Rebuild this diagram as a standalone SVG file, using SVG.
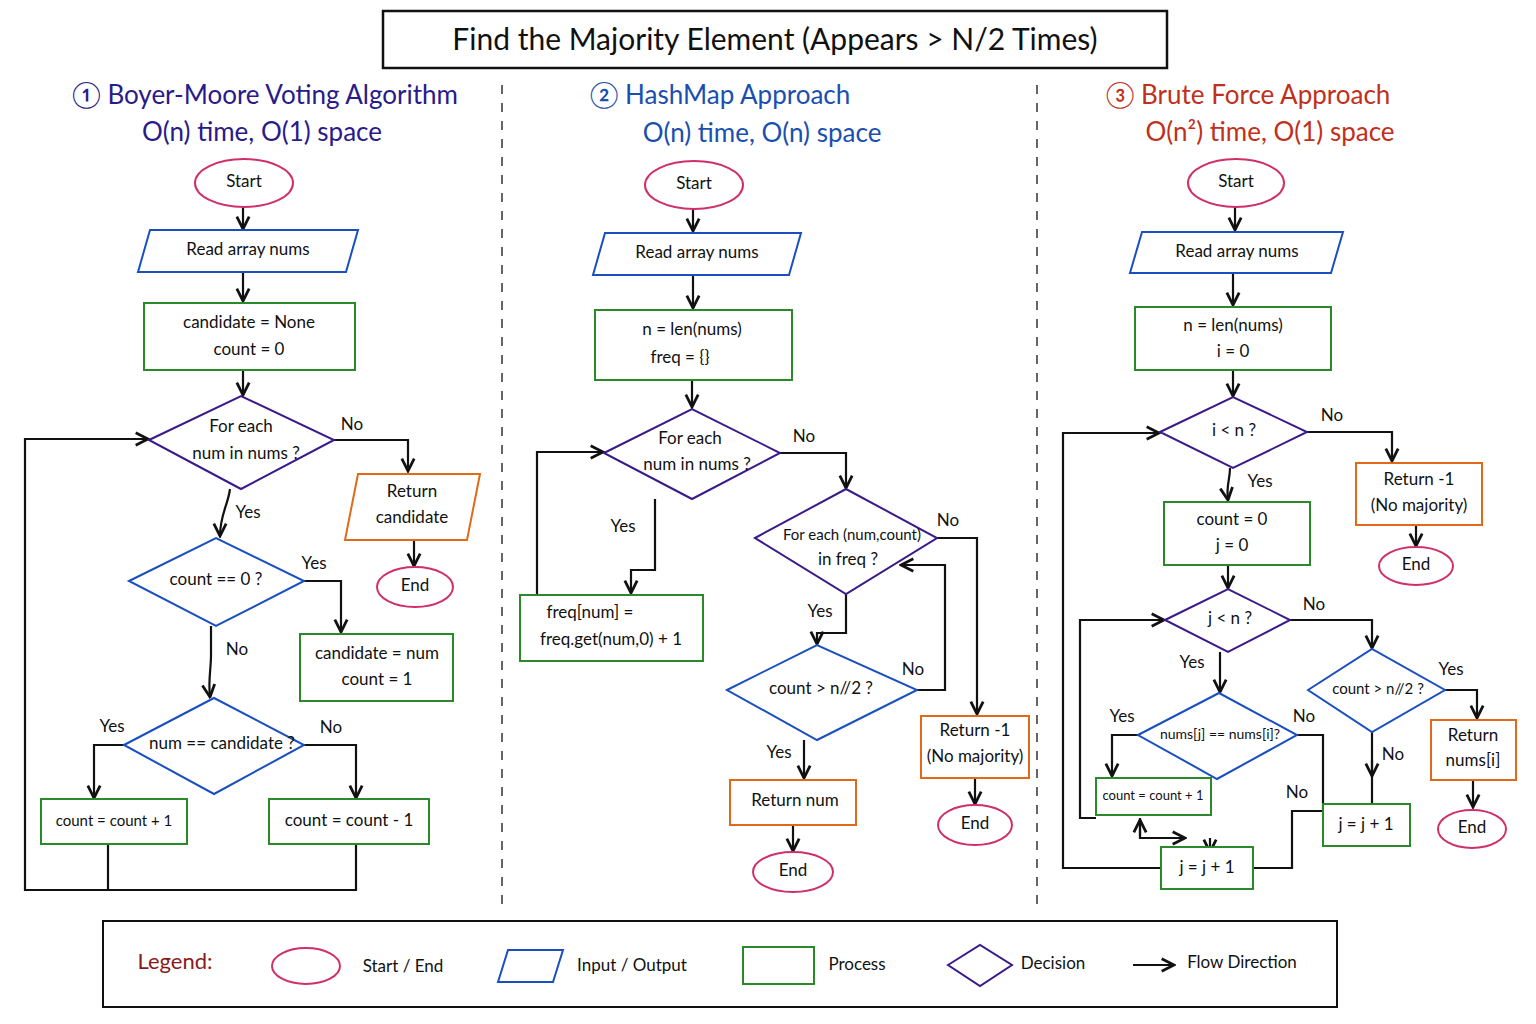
<svg xmlns="http://www.w3.org/2000/svg" width="1536" height="1024" viewBox="0 0 1536 1024">
<defs>
<marker id="ah" viewBox="0 0 10 10" refX="9" refY="5" markerWidth="7" markerHeight="7" orient="auto-start-reverse"><path d="M1,1 L9,5 L1,9" fill="none" stroke="#111" stroke-width="1.8"/></marker>
<style>
text{font-family:"Lato","Liberation Sans",sans-serif;fill:#111;text-anchor:middle;dominant-baseline:middle;font-size:17px}
.se{fill:#fff;stroke:#d0306a;stroke-width:2}
.io{fill:#fff;stroke:#1a4fc0;stroke-width:2}
.pr{fill:#fff;stroke:#2a8a2a;stroke-width:2}
.dp{fill:#fff;stroke:#3a1a8a;stroke-width:2}
.db{fill:#fff;stroke:#1a4fc0;stroke-width:2}
.or{fill:#fff;stroke:#e06a1a;stroke-width:2}
.c path{fill:none;stroke:#111;stroke-width:2.2;marker-end:url(#ah)}
.c path.n{marker-end:none}
.lb{font-size:18px}
.h{font-size:26px}
.div{stroke:#333;stroke-width:1.5;stroke-dasharray:9 9}
</style>
</defs>
<rect width="1536" height="1024" fill="#fff"/>
<g id="title"><rect x="383" y="11" width="784" height="57" fill="#fff" stroke="#111" stroke-width="2.5"/><text x="775" y="42" style="font-size:30px">Find the Majority Element (Appears &gt; N/2 Times)</text></g>
<line class="div" x1="502" y1="85" x2="502" y2="910"/>
<line class="div" x1="1037" y1="85" x2="1037" y2="910"/>
<g id="headers">
<text class="h" x="265" y="97" style="fill:#2a1a8a">① Boyer-Moore Voting Algorithm</text>
<text class="h" x="262" y="134" style="fill:#2a1a8a">O(n) time, O(1) space</text>
<text class="h" x="720" y="97" style="fill:#1a4fb0">② HashMap Approach</text>
<text class="h" x="762" y="135" style="fill:#1a4fb0">O(n) time, O(n) space</text>
<text class="h" x="1248" y="97" style="fill:#c0301a">③ Brute Force Approach</text>
<text class="h" x="1270" y="134" style="fill:#c0301a">O(n²) time, O(1) space</text>
</g>
<g class="c" id="connectors">
<path d="M243,207 V229"/><path d="M243,272 V301"/><path d="M243,370 V395"/>
<path d="M334,440 H408 V471"/><path d="M414,540 V566"/>
<path d="M230,489 C228,505 220,515 220,536"/>
<path d="M304,581 H341 V632"/>
<path d="M211,626 V655 C211,670 208,680 210,697"/>
<path d="M124,745 H94 V798"/><path d="M304,745 H356 V798"/>
<path class="n" d="M108,844 V890"/><path d="M356,844 V890 H25 V439 H148"/>
<path d="M693,209 V231"/><path d="M693,275 V308"/><path d="M692,380 V407"/>
<path d="M780,453 H846 V488"/>
<path d="M655,499 V570 H631 V593"/>
<path d="M537,595 V452 H603"/>
<path d="M937,538 H977 V714"/>
<path d="M846,594 V633 H817 V644"/>
<path d="M917,690 H945 V565 H901"/>
<path d="M804,740 V778"/>
<path d="M793,825 V851"/><path d="M975,778 V804"/>
<path d="M1235,207 V230"/><path d="M1233,273 V305"/><path d="M1233,370 V396"/>
<path d="M1307,432 H1392 V461"/><path d="M1416,525 V546"/>
<path d="M1230,468 C1230,480 1226,485 1228,500"/>
<path d="M1228,565 V588"/>
<path d="M1290,620 H1372 V648"/>
<path d="M1220,652 V692"/>
<path d="M1138,735 H1112 V776"/>
<path class="n" d="M1297,735 H1323 V810"/>
<path d="M1445,690 H1477 V718"/><path d="M1473,780 V807"/>
<path class="n" d="M1372,732 V804"/><path d="M1372,760 V776"/>
<path class="n" d="M1323,811 H1292 V868 H1253"/>
<path d="M1140,818 V838 H1185"/><path d="M1140,836 V820"/><path d="M1210,838 V852"/>
<path d="M1096,818 H1080 V620 H1164"/>
<path d="M1161,868 H1063 V433 H1159"/>
</g>
<g id="labels" class="lb">
<text x="352" y="426">No</text><text x="248" y="514">Yes</text><text x="314" y="565">Yes</text><text x="237" y="651">No</text><text x="112" y="728">Yes</text><text x="331" y="729">No</text>
<text x="804" y="438">No</text><text x="623" y="528">Yes</text><text x="948" y="522">No</text><text x="820" y="613">Yes</text><text x="913" y="671">No</text><text x="779" y="754">Yes</text>
<text x="1332" y="417">No</text><text x="1260" y="483">Yes</text><text x="1314" y="606">No</text><text x="1192" y="664">Yes</text><text x="1122" y="718">Yes</text><text x="1304" y="718">No</text><text x="1297" y="794">No</text><text x="1451" y="671">Yes</text><text x="1393" y="756">No</text>
</g>
<g id="c1-start"><ellipse class="se" cx="244" cy="183" rx="49" ry="24"/><text x="244" y="183">Start</text></g>
<g id="c1-read"><polygon class="io" points="150,230 358,230 346,272 138,272"/><text x="248" y="251">Read array nums</text></g>
<g id="c1-init"><rect class="pr" x="144" y="303" width="211" height="67"/><text x="249" y="324">candidate = None</text><text x="249" y="351">count = 0</text></g>
<g id="c1-loop"><polygon class="dp" points="149,440 241,396 334,440 241,489"/><text x="241" y="428">For each</text><text x="246" y="455">num in nums ?</text></g>
<g id="c1-ret"><polygon class="or" points="358,474 480,474 467,540 345,540"/><text x="412" y="493">Return</text><text x="412" y="519">candidate</text></g>
<g id="c1-end"><ellipse class="se" cx="415" cy="587" rx="38" ry="20"/><text x="415" y="587">End</text></g>
<g id="c1-d0"><polygon class="db" points="129,581 216,538 304,581 216,626"/><text x="216" y="581">count == 0 ?</text></g>
<g id="c1-set"><rect class="pr" x="300" y="634" width="153" height="67"/><text x="377" y="655">candidate = num</text><text x="377" y="681">count = 1</text></g>
<g id="c1-d1"><polygon class="db" points="124,745 214,698 304,745 214,794"/><text x="222" y="745">num == candidate ?</text></g>
<g id="c1-inc"><rect class="pr" x="41" y="799" width="146" height="45"/><text x="114" y="822" style="font-size:15px">count = count + 1</text></g>
<g id="c1-dec"><rect class="pr" x="269" y="799" width="160" height="45"/><text x="349" y="822">count = count - 1</text></g>
<g id="c2-start"><ellipse class="se" cx="694" cy="185" rx="49" ry="24"/><text x="694" y="185">Start</text></g>
<g id="c2-read"><polygon class="io" points="605,233 801,233 789,275 593,275"/><text x="697" y="254">Read array nums</text></g>
<g id="c2-init"><rect class="pr" x="595" y="310" width="197" height="70"/><text x="692" y="331">n = len(nums)</text><text x="680" y="359">freq = {}</text></g>
<g id="c2-loop"><polygon class="dp" points="604,453 692,409 780,453 692,499"/><text x="690" y="440">For each</text><text x="697" y="466">num in nums ?</text></g>
<g id="c2-upd"><rect class="pr" x="520" y="595" width="183" height="66"/><text x="590" y="614">freq[num] =</text><text x="611" y="641">freq.get(num,0) + 1</text></g>
<g id="c2-loop2"><polygon class="dp" points="755,538 846,489 937,538 846,594"/><text x="852" y="536" style="font-size:15px">For each (num,count)</text><text x="848" y="561">in freq ?</text></g>
<g id="c2-d"><polygon class="db" points="727,690 817,645 917,690 817,740"/><text x="821" y="690">count &gt; n//2 ?</text></g>
<g id="c2-retn"><rect class="or" x="730" y="780" width="126" height="45"/><text x="795" y="802">Return num</text></g>
<g id="c2-end1"><ellipse class="se" cx="793" cy="872" rx="40" ry="20"/><text x="793" y="872">End</text></g>
<g id="c2-ret1"><rect class="or" x="921" y="716" width="108" height="62"/><text x="975" y="732">Return -1</text><text x="975" y="758">(No majority)</text></g>
<g id="c2-end2"><ellipse class="se" cx="975" cy="825" rx="37" ry="20"/><text x="975" y="825">End</text></g>
<g id="c3-start"><ellipse class="se" cx="1236" cy="183" rx="48" ry="24"/><text x="1236" y="183">Start</text></g>
<g id="c3-read"><polygon class="io" points="1142,232 1343,232 1331,273 1130,273"/><text x="1237" y="253">Read array nums</text></g>
<g id="c3-init"><rect class="pr" x="1135" y="307" width="196" height="63"/><text x="1233" y="327">n = len(nums)</text><text x="1233" y="353">i = 0</text></g>
<g id="c3-di"><polygon class="dp" points="1160,432 1233,397 1307,432 1233,468"/><text x="1234" y="432">i &lt; n ?</text></g>
<g id="c3-ret1"><rect class="or" x="1356" y="463" width="126" height="62"/><text x="1419" y="481">Return -1</text><text x="1419" y="507">(No majority)</text></g>
<g id="c3-end1"><ellipse class="se" cx="1416" cy="566" rx="37" ry="19"/><text x="1416" y="566">End</text></g>
<g id="c3-init2"><rect class="pr" x="1164" y="502" width="146" height="63"/><text x="1232" y="521">count = 0</text><text x="1232" y="547">j = 0</text></g>
<g id="c3-dj"><polygon class="dp" points="1165,620 1228,589 1290,620 1228,652"/><text x="1230" y="620">j &lt; n ?</text></g>
<g id="c3-deq"><polygon class="db" points="1138,735 1219,693 1297,735 1217,779"/><text x="1220" y="735" style="font-size:14px">nums[j] == nums[i]?</text></g>
<g id="c3-inc"><rect class="pr" x="1096" y="778" width="115" height="37"/><text x="1153" y="797" style="font-size:13px">count = count + 1</text></g>
<g id="c3-dc"><polygon class="db" points="1308,690 1372,649 1445,690 1372,732"/><text x="1378" y="690" style="font-size:15px">count &gt; n//2 ?</text></g>
<g id="c3-retn"><rect class="or" x="1431" y="720" width="85" height="60"/><text x="1473" y="737">Return</text><text x="1473" y="762">nums[i]</text></g>
<g id="c3-end2"><ellipse class="se" cx="1472" cy="829" rx="34" ry="19"/><text x="1472" y="829">End</text></g>
<g id="c3-ji"><rect class="pr" x="1323" y="804" width="87" height="42"/><text x="1366" y="826">j = j + 1</text></g>
<g id="c3-jj"><rect class="pr" x="1161" y="847" width="92" height="42"/><text x="1207" y="869">j = j + 1</text></g>
<g id="legend">
<rect x="103" y="921" width="1234" height="86" fill="#fff" stroke="#111" stroke-width="2"/>
<text x="175" y="963" style="fill:#8a1a1a;font-size:22px">Legend:</text>
<ellipse class="se" cx="306" cy="966" rx="34" ry="18"/><text x="403" y="968">Start / End</text>
<polygon class="io" points="508,950 563,950 553,982 498,982"/><text x="632" y="967">Input / Output</text>
<rect class="pr" x="743" y="947" width="71" height="37"/><text x="857" y="966">Process</text>
<polygon class="dp" points="948,965 980,945 1012,965 980,986"/><text x="1053" y="965">Decision</text>
<path d="M1133,965 H1174" stroke="#111" stroke-width="2.2" marker-end="url(#ah)"/><text x="1242" y="964">Flow Direction</text>
</g>
</svg>
